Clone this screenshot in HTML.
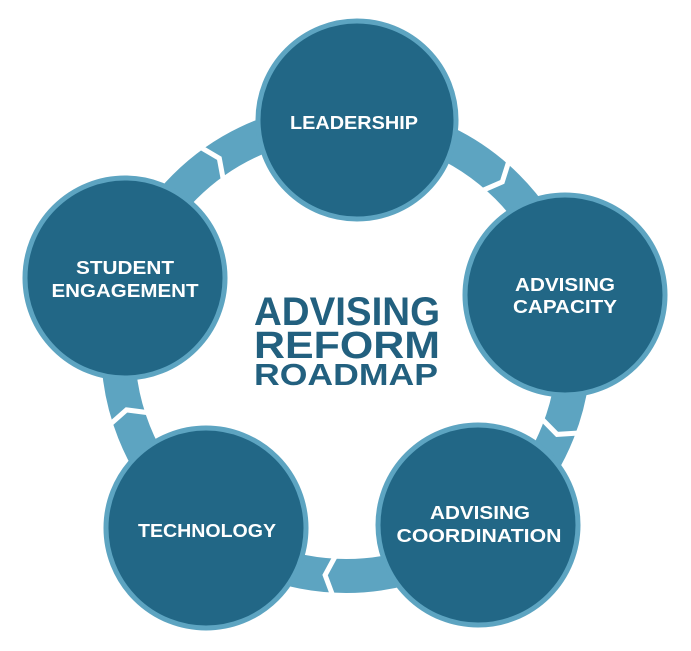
<!DOCTYPE html>
<html><head><meta charset="utf-8"><style>
html,body{margin:0;padding:0;background:#fff;}
svg{display:block;}
</style></head><body>
<svg width="691" height="651" viewBox="0 0 691 651" xmlns="http://www.w3.org/2000/svg">
<circle cx="346" cy="348" r="228" fill="none" stroke="#5da4c1" stroke-width="34"/>
<g fill="none" stroke="#fff" stroke-width="5" stroke-linejoin="miter">
<polyline points="341,98 351,120 341,142" transform="rotate(-35 346 348)"/>
<polyline points="341,98 351,120 341,142" transform="rotate(42 346 348)"/>
<polyline points="341,98 351,120 341,142" transform="rotate(111 346 348)"/>
<polyline points="341,98 351,120 341,142" transform="rotate(184 346 348)"/>
<polyline points="341,98 351,120 341,142" transform="rotate(253 346 348)"/>
</g>
<g fill="#226786" stroke="#5da4c1" stroke-width="5">
<circle cx="357" cy="120" r="99"/>
<circle cx="565" cy="295" r="100"/>
<circle cx="478" cy="525" r="100"/>
<circle cx="206" cy="528" r="100"/>
<circle cx="125" cy="278" r="100"/>
</g>
<g fill="#fff" font-family="Liberation Sans, sans-serif" font-weight="bold" font-size="18" text-anchor="middle" lengthAdjust="spacingAndGlyphs">
<text x="354" y="129" textLength="128" lengthAdjust="spacingAndGlyphs">LEADERSHIP</text>
<text x="565" y="291" textLength="100" lengthAdjust="spacingAndGlyphs">ADVISING</text>
<text x="565" y="313" textLength="104" lengthAdjust="spacingAndGlyphs">CAPACITY</text>
<text x="480" y="519" textLength="100" lengthAdjust="spacingAndGlyphs">ADVISING</text>
<text x="479" y="542" textLength="165" lengthAdjust="spacingAndGlyphs">COORDINATION</text>
<text x="207" y="537" textLength="138" lengthAdjust="spacingAndGlyphs">TECHNOLOGY</text>
<text x="125" y="274" textLength="98" lengthAdjust="spacingAndGlyphs">STUDENT</text>
<text x="125" y="297" textLength="147" lengthAdjust="spacingAndGlyphs">ENGAGEMENT</text>
</g>
<g fill="#22607f" font-family="Liberation Sans, sans-serif" font-weight="bold">
<text x="254" y="325" font-size="40" textLength="186" lengthAdjust="spacingAndGlyphs">ADVISING</text>
<text x="254" y="358" font-size="38" textLength="186" lengthAdjust="spacingAndGlyphs">REFORM</text>
<text x="254" y="385" font-size="31" textLength="184" lengthAdjust="spacingAndGlyphs">ROADMAP</text>
</g>
</svg>
</body></html>
